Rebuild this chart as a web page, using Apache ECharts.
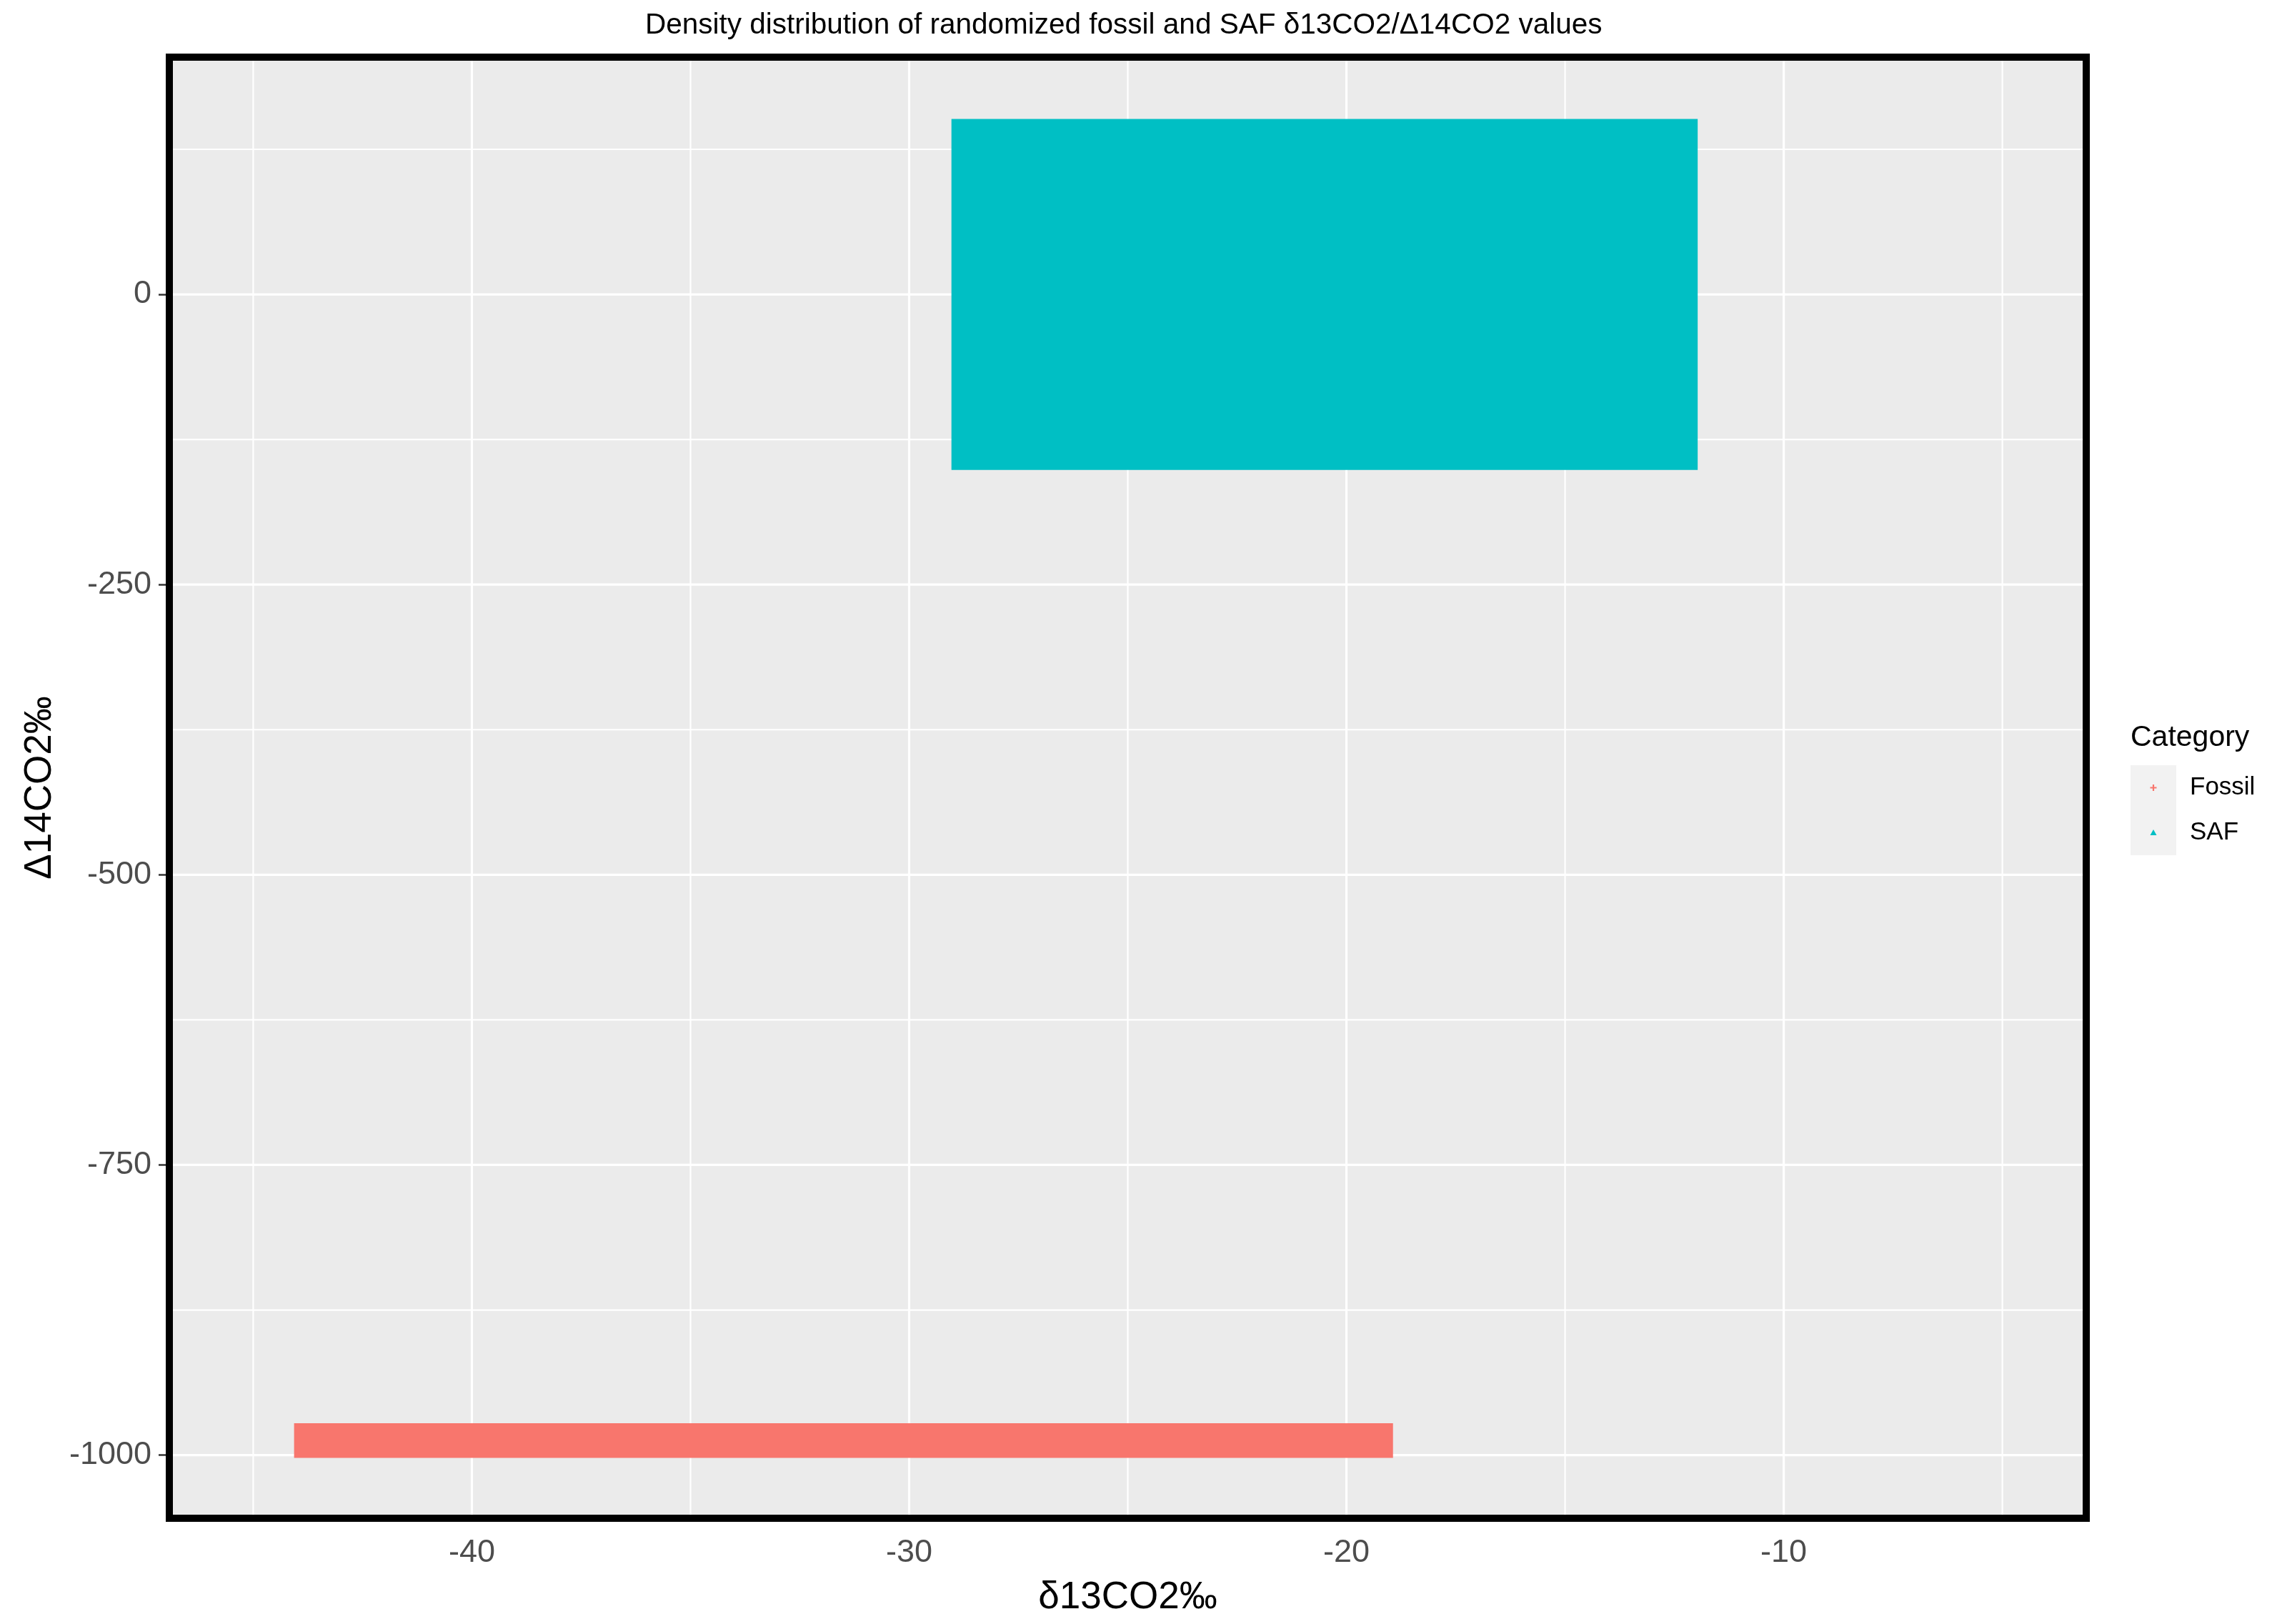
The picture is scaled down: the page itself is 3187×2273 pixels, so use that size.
<!DOCTYPE html>
<html>
<head>
<meta charset="utf-8">
<script src="https://cdn.jsdelivr.net/npm/echarts@6/dist/echarts.min.js"></script>
<style>
html,body{margin:0;padding:0;background:#fff;}
#chart{width:3187px;height:2273px;}
</style>
</head>
<body>
<div id="chart"></div>
<script>
// ---- data ----
const categories = ['Fossil', 'SAF'];
const categoryColors = ['#F8766D', '#00BFC4'];
// extent of the randomized samples: [min, max]
const fossilD13C = [-44.0, -19.0];
const fossilD14C = [-1000, -975];
const safD13C = [-29.0, -12.0];
const safD14C = [-150, 150];
// axis ranges and ticks
const xRange = [-47, -3];
const yRange = [-1057.5, 207.5];
const xMajor = [-40, -30, -20, -10];
const xMinor = [-45, -35, -25, -15, -5];
const yMajor = [-1000, -750, -500, -250, 0];
const yMinor = [-875, -625, -375, -125, 125];

const titleText = 'Density distribution of randomized fossil and SAF \u03b413CO2/\u039414CO2 values';
const xName = '\u03b413CO2\u2030';
const yName = '\u039414CO2\u2030';
const legendTitle = 'Category';

const FONT = "'Liberation Sans', Arial, sans-serif";

function svgIcon(inner) {
  const svg = '<svg xmlns="http://www.w3.org/2000/svg" width="64" height="63" viewBox="0 0 64 63">' +
    '<rect x="0" y="0" width="64" height="63" fill="#F2F2F2"/>' + inner + '</svg>';
  return 'image://data:image/svg+xml;charset=utf-8,' + encodeURIComponent(svg);
}
const fossilIcon = svgIcon('<path d="M27.5 31.5 H36.5 M32 27 V36" stroke="' + categoryColors[0] + '" stroke-width="2.2" fill="none"/>');
const safIcon = svgIcon('<path d="M32 27 L36.5 35 L27.5 35 Z" fill="' + categoryColors[1] + '"/>');

function regionSeries(name, color, xs, ys, pad) {
  return {
    type: 'custom',
    name: name,
    z: 3,
    encode: { x: [0, 1], y: [2, 3] },
    data: [[xs[0], xs[1], ys[0], ys[1]]],
    itemStyle: { color: color },
    renderItem: function (params, api) {
      const p1 = api.coord([api.value(0), api.value(3)]);
      const p2 = api.coord([api.value(1), api.value(2)]);
      return {
        type: 'rect',
        shape: { x: p1[0] - pad, y: p1[1] - pad, width: p2[0] - p1[0] + 2 * pad, height: p2[1] - p1[1] + 2 * pad },
        style: { fill: color }
      };
    }
  };
}

function vGrid(values, width) {
  return {
    type: 'custom', z: 1, silent: true,
    data: values.map(v => [v, yRange[0]]),
    encode: { x: 0, y: 1 },
    renderItem: function (params, api) {
      const cs = params.coordSys;
      const c = api.coord([api.value(0), api.value(1)]);
      return { type: 'line', shape: { x1: c[0], y1: cs.y, x2: c[0], y2: cs.y + cs.height },
        style: { stroke: '#FFFFFF', lineWidth: width } };
    }
  };
}
function hGrid(values, width) {
  return {
    type: 'custom', z: 1, silent: true,
    data: values.map(v => [xRange[0], v]),
    encode: { x: 0, y: 1 },
    renderItem: function (params, api) {
      const cs = params.coordSys;
      const c = api.coord([api.value(0), api.value(1)]);
      return { type: 'line', shape: { x1: cs.x, y1: c[1], x2: cs.x + cs.width, y2: c[1] },
        style: { stroke: '#FFFFFF', lineWidth: width } };
    }
  };
}

const borderSeries = {
  type: 'custom', z: 10, silent: true,
  data: [[xRange[0], yRange[0]]],
  encode: { x: 0, y: 1 },
  renderItem: function (params, api) {
    const cs = params.coordSys;
    const w = 10;
    return { type: 'rect', shape: { x: cs.x + w / 2, y: cs.y + w / 2, width: cs.width - w, height: cs.height - w },
      style: { fill: 'none', stroke: '#000000', lineWidth: w } };
  }
};

const chart = echarts.init(document.getElementById('chart'), null, { renderer: 'canvas' });
chart.setOption({
  animation: false,
  backgroundColor: '#FFFFFF',
  textStyle: { fontFamily: FONT },
  title: [
    {
      text: titleText, left: 903, top: 15, padding: 0,
      textStyle: { fontFamily: FONT, fontSize: 40.5, fontWeight: 'normal', color: '#000000' }
    },
    {
      text: legendTitle, left: 2982, top: 1012, padding: 0,
      textStyle: { fontFamily: FONT, fontSize: 41, fontWeight: 'normal', color: '#000000' }
    }
  ],
  legend: {
    orient: 'vertical', left: 2982, top: 1071, padding: 0,
    itemWidth: 64, itemHeight: 63, itemGap: 0,
    textStyle: { fontFamily: FONT, fontSize: 35, color: '#000000', padding: [0, 0, 0, 14] },
    data: [
      { name: categories[0], icon: fossilIcon },
      { name: categories[1], icon: safIcon }
    ]
  },
  grid: {
    left: 232, right: 262, top: 75, bottom: 143,
    show: true, backgroundColor: '#EBEBEB', borderWidth: 0
  },
  xAxis: {
    type: 'value', min: xRange[0], max: xRange[1],
    name: xName, nameLocation: 'middle', nameGap: 80,
    nameTextStyle: { fontFamily: FONT, fontSize: 53, color: '#000000' },
    axisLine: { show: false },
    axisTick: { show: true, length: 9, customValues: xMajor, lineStyle: { color: '#333333', width: 2.5 } },
    axisLabel: { show: true, customValues: xMajor, margin: 21, fontFamily: FONT, fontSize: 45, color: '#4D4D4D',
      formatter: function (v) { return String(v); } },
    splitLine: { show: false }
  },
  yAxis: {
    type: 'value', min: yRange[0], max: yRange[1],
    name: yName, nameLocation: 'middle', nameGap: 149,
    nameTextStyle: { fontFamily: FONT, fontSize: 53, color: '#000000' },
    axisLine: { show: false },
    axisTick: { show: true, length: 10, customValues: yMajor, lineStyle: { color: '#333333', width: 2.5 } },
    axisLabel: { show: true, customValues: yMajor, margin: 20, fontFamily: FONT, fontSize: 45, color: '#4D4D4D',
      formatter: function (v) { return String(v); } },
    splitLine: { show: false }
  },
  series: [
    vGrid(xMinor, 2.2),
    hGrid(yMinor, 2.2),
    vGrid(xMajor, 3.2),
    hGrid(yMajor, 3.2),
    regionSeries(categories[0], categoryColors[0], fossilD13C, fossilD14C, 4),
    regionSeries(categories[1], categoryColors[1], safD13C, safD14C, 2),
    borderSeries
  ]
});
</script>
</body>
</html>
